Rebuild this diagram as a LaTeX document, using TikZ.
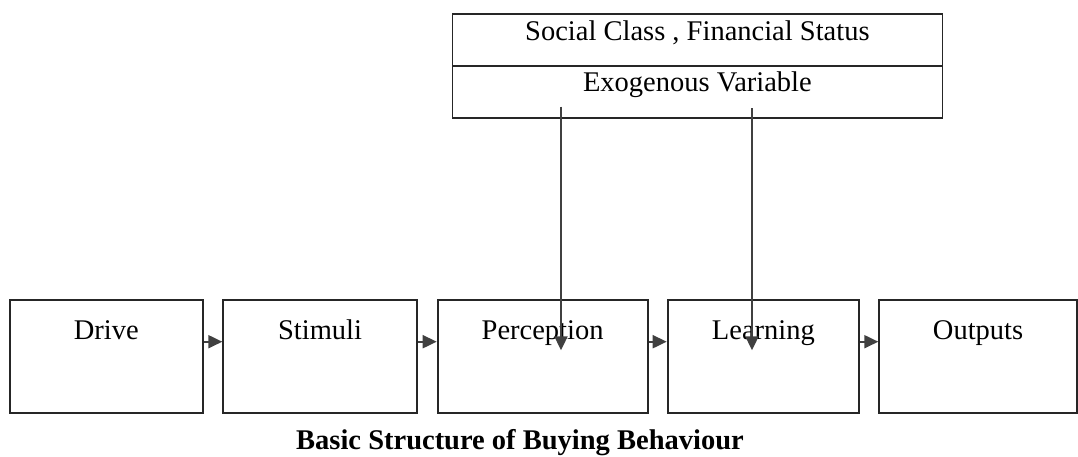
\documentclass[tikz,border=0pt]{standalone}
\usepackage{fontspec}
\setmainfont{Liberation Serif}
\usetikzlibrary{arrows.meta,calc}
\begin{document}
\begin{tikzpicture}[x=1pt,y=-1pt,
  box/.style={draw=black!85,line width=1.8pt,inner sep=0pt,anchor=north west},
  lbl/.style={anchor=base,inner sep=0pt,font=\fontsize{28.5}{32}\selectfont},
  arr/.style={draw=black!75,line width=2pt,-{Triangle[length=14pt,width=13pt]}}]
\useasboundingbox (0,0) rectangle (1078,456);
% top box
\node[box,minimum width=490pt,minimum height=52.3pt] (soc) at (451.5,12.7) {};
\node[box,minimum width=490pt,minimum height=51.7pt] (exo) at (451.5,65) {};
\node[lbl] (soct) at ($(soc.north)+(0,28)$) {Social Class , Financial Status};
\node[lbl] (exot) at ($(exo.north)+(0,26.7)$) {Exogenous Variable};
% bottom boxes
\node[box,minimum width=192.7pt,minimum height=112.4pt] (drive) at (9,299.3) {};
\node[box,minimum width=193.7pt,minimum height=112.4pt] (stim) at (222.3,299.3) {};
\node[box,minimum width=210pt,minimum height=112.4pt] (perc) at (436.7,299.3) {};
\node[box,minimum width=191.6pt,minimum height=112.4pt] (learn) at (666.7,299.3) {};
\node[box,minimum width=197.7pt,minimum height=112.4pt] (outp) at (878.3,299.3) {};
\node[lbl] (drivet) at ($(drive.north)+(0,40.2)$) {Drive};
\node[lbl] (stimt) at ($(stim.north)+(0,40.2)$) {Stimuli};
\node[lbl] (perct) at ($(perc.north)+(0,40.2)$) {Perception};
\node[lbl] (learnt) at ($(learn.north)+(0,40.2)$) {Learning};
\node[lbl] (outpt) at ($(outp.north)+(0,40.2)$) {Outputs};
% horizontal arrows
\draw[arr] ($(drive.north east)+(0,42.4)$) -- ($(stim.north west)+(0,42.4)$);
\draw[arr] ($(stim.north east)+(0,42.4)$) -- ($(perc.north west)+(0,42.4)$);
\draw[arr] ($(perc.north east)+(0,42.4)$) -- ($(learn.north west)+(0,42.4)$);
\draw[arr] ($(learn.north east)+(0,42.4)$) -- ($(outp.north west)+(0,42.4)$);
% vertical arrows
\coordinate (v1s) at (561,106.7);
\coordinate (v2s) at (752,108);
\draw[arr] (v1s) -- (v1s |- {$(perc.north)+(0,51)$});
\draw[arr] (v2s) -- (v2s |- {$(learn.north)+(0,51)$});
% title
\node[lbl,font=\fontsize{28.5}{32}\selectfont\bfseries] (title) at (520,449) {Basic Structure of Buying Behaviour};
\end{tikzpicture}
\end{document}
